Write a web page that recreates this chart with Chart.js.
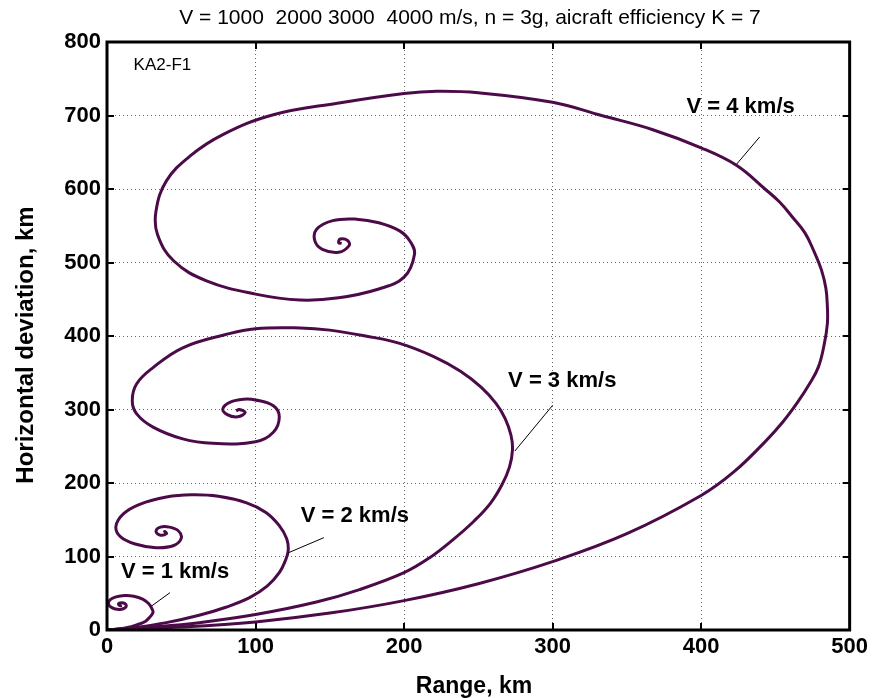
<!DOCTYPE html>
<html><head><meta charset="utf-8">
<script src="https://cdn.jsdelivr.net/npm/chart.js@4.4.1/dist/chart.umd.min.js"></script>
<style>html,body{margin:0;padding:0;background:#fff}#wrap{width:872px;height:698px}</style>
</head><body><div id="wrap"><canvas id="c" width="872" height="698"></canvas></div>
<script>
// ---- data (km) ----
const xTickValues = [0, 100, 200, 300, 400, 500];
const yTickValues = [0, 100, 200, 300, 400, 500, 600, 700, 800];

const v1Range = [0,6,13,20,26,29,31,30,28,24,18,12,6,2,1,2,5,9,12,13,12,10,8,8,9,10];
const v1Dev   = [0,1,3,7,12,18,24,30,36,42,46,47,45,41,36,32,29,28,30,33,36,37,36,34,33,33.5];

const v2Range = [0,17,40,62,80,96,108,116,120,122,121,116,107,94,75,57,40,22,11,6,9,19,33,45,50,48,42,36,33,36,40,39,38];
const v2Dev   = [0,3,10,20,31,44,60,78,94,108,124,142,160,173,182,184,181,171,158,141,127,117,112,115,125,135,140,140,134,129,131,134,133];

const v3Range = [0,30,62,100,141,170,200,217,233,247,258,266,271,273,272,268,262,252,238,220,197,174,150,130,100,80,51,31,20,17,20,31,51,71,100,112,116,112,100,92,83,78,81,88,93,89,87];
const v3Dev   = [0,4,10,21,38,55,78,98,123,148,172,198,222,245,265,288,308,330,352,372,390,400,408,411,410,402,384,357,335,312,294,276,260,254,256,269,290,305,313,314,310,301,293,290,296,300,298];

const v4Range = [0,50,100,150,200,250,300,350,400,422,443,455,465,473,479,483,485,485,484,481,476,470,461,453,443,424,400,367,333,300,250,222,200,156,112,78,56,40,33,34,45,67,100,130,156,183,200,207,204,197,183,168,152,141,140,145,156,163,162,157,156,158];
const v4Dev   = [0,4,11,23,40,63,93,131,183,215,256,283,310,335,358,390,417,440,465,490,515,540,563,582,600,632,656,681,700,718,731,733,730,717,701,674,645,611,570,538,502,475,457,449,452,464,480,511,529,543,554,559,557,545,529,518,514,523,530,532,527,526];

const seriesNames = ['V = 1 km/s', 'V = 2 km/s', 'V = 3 km/s', 'V = 4 km/s'];
const labelRange = [45.8, 166.9, 306.5, 426.6];
const labelDev   = [79.6, 155, 338.8, 711.6];
const leaderFromRange = [42.4, 146, 300, 439.4];
const leaderFromDev   = [50.8, 125.6, 305.6, 670.7];
const leaderToRange   = [30, 122, 274.6, 424];
const leaderToDev     = [32.6, 105, 243.5, 634];

const titleText = 'V = 1000  2000 3000  4000 m/s, n = 3g, aicraft efficiency K = 7';
const xTitle = 'Range, km';
const yTitle = 'Horizontal deviation, km';
const tagText = 'KA2-F1';
const tagRange = 37.3, tagDev = 768;

// ---- build ----
const LINE = '#4c0b48';
const FONT = '"Liberation Sans", Arial, sans-serif';
function pts(xs, ys){ return xs.map((v,i)=>({x:v, y:ys[i]})); }
const curves = [[v1Range,v1Dev],[v2Range,v2Dev],[v3Range,v3Dev],[v4Range,v4Dev]];

const deco = {
  id: 'deco',
  beforeDraw(chart){
    const c = chart.ctx; c.save(); c.fillStyle='#fff'; c.fillRect(0,0,chart.width,chart.height); c.restore();
  },
  afterDatasetsDraw(chart){
    const {ctx, chartArea:a, scales:{x, y}} = chart;
    ctx.save();
    ctx.strokeStyle = '#000'; ctx.lineWidth = 1;
    for (let i=0;i<4;i++){
      ctx.beginPath();
      ctx.moveTo(x.getPixelForValue(leaderFromRange[i]), y.getPixelForValue(leaderFromDev[i]));
      ctx.lineTo(x.getPixelForValue(leaderToRange[i]), y.getPixelForValue(leaderToDev[i]));
      ctx.stroke();
    }
    ctx.fillStyle = '#000';
    ctx.font = 'bold 22px ' + FONT;
    ctx.textAlign = 'center'; ctx.textBaseline = 'middle';
    for (let i=0;i<4;i++){
      ctx.fillText(seriesNames[i], x.getPixelForValue(labelRange[i]), y.getPixelForValue(labelDev[i]));
    }
    ctx.font = '17px ' + FONT;
    ctx.fillText(tagText, x.getPixelForValue(tagRange), y.getPixelForValue(tagDev));
    ctx.lineWidth = 3; ctx.strokeStyle = '#000';
    ctx.strokeRect(a.left, a.top, a.right - a.left, a.bottom - a.top);
    ctx.lineWidth = 2;
    ctx.beginPath();
    xTickValues.forEach(v => { const px = Math.round(x.getPixelForValue(v));
      ctx.moveTo(px, a.bottom); ctx.lineTo(px, a.bottom - 7);
      ctx.moveTo(px, a.top); ctx.lineTo(px, a.top + 7); });
    yTickValues.forEach(v => { const py = Math.round(y.getPixelForValue(v));
      ctx.moveTo(a.left, py); ctx.lineTo(a.left + 7, py);
      ctx.moveTo(a.right, py); ctx.lineTo(a.right - 7, py); });
    ctx.stroke();
    ctx.restore();
  },
  afterDraw(chart){
    const ctx = chart.ctx; ctx.save();
    ctx.fillStyle = '#000';
    ctx.textAlign = 'center'; ctx.textBaseline = 'alphabetic';
    ctx.font = '21px ' + FONT;
    ctx.fillText(titleText, 470, 24);
    ctx.font = 'bold 23px ' + FONT;
    ctx.fillText(xTitle, 474, 693);
    ctx.translate(33, 345); ctx.rotate(-Math.PI/2);
    ctx.font = 'bold 24px ' + FONT;
    ctx.fillText(yTitle, 0, 0);
    ctx.restore();
  }
};

new Chart(document.getElementById('c'), {
  type: 'scatter',
  data: {
    datasets: curves.map((c, i) => ({
      label: seriesNames[i],
      data: pts(c[0], c[1]),
      showLine: true,
      borderColor: LINE,
      backgroundColor: LINE,
      borderWidth: 3,
      pointRadius: 0,
      tension: 0.4,
      fill: false
    }))
  },
  options: {
    responsive: false,
    devicePixelRatio: 1,
    animation: false,
    layout: { padding: { left: 0, top: 42, right: 22, bottom: 0 } },
    plugins: { legend: { display: false }, title: { display: false }, tooltip: { enabled: false } },
    scales: {
      x: {
        type: 'linear', min: 0, max: 500,
        afterFit(s){ s.height = 68; },
        afterBuildTicks(s){ s.ticks = xTickValues.map(v => ({value: v})); },
        ticks: { color: '#000', font: { family: FONT, size: 22, weight: 'bold' }, padding: 4, maxRotation: 0 },
        grid: { color: '#666', lineWidth: 1, drawTicks: false },
        border: { display: false, dash: [1, 3] }
      },
      y: {
        type: 'linear', min: 0, max: 800,
        afterFit(s){ s.width = 107; },
        afterBuildTicks(s){ s.ticks = yTickValues.map(v => ({value: v})); },
        ticks: { color: '#000', font: { family: FONT, size: 22, weight: 'bold' }, padding: 6 },
        grid: { color: '#666', lineWidth: 1, drawTicks: false },
        border: { display: false, dash: [1, 3] }
      }
    }
  },
  plugins: [deco]
});
</script></body></html>
